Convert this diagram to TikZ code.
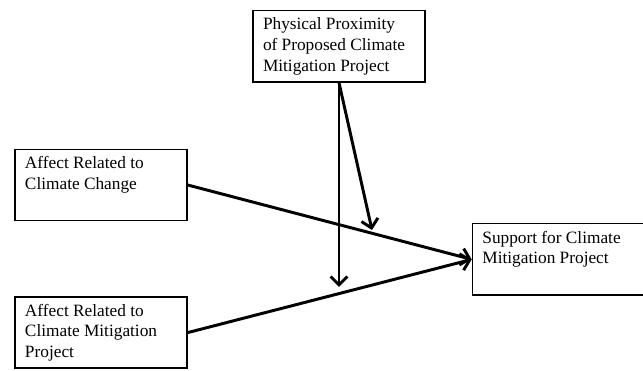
\documentclass[tikz,border=0pt]{standalone}
\usepackage{fontspec}
\setmainfont{Liberation Serif}
\usepackage{xcolor}
\usetikzlibrary{positioning,arrows.meta}

\tikzset{
  varbox/.style={draw, line width=1pt, rectangle, inner xsep=0.25cm, inner ysep=0.18cm,
    font=\fontsize{12.3}{14.6}\selectfont},
  path/.style={line width=2.1pt, ->}
}
\newcommand{\boxtext}[1]{\parbox[c][1.42cm][t]{3.8cm}{\raggedright #1}}

\begin{document}
\begin{tikzpicture}[node distance=1.5cm, >={Straight Barb[length=6pt,width=12pt]}]
      \useasboundingbox (-2.525,-4.65) rectangle (13.55,4.625);
      \node (affect1) [varbox] at (0,0) {\boxtext{Affect Related to\\Climate Change}};
      \node (affect2) [varbox, below=1.875cm of affect1] {\boxtext{Affect Related to\\Climate Mitigation\\Project}};
      \node (support) [varbox, right=7.1cm of affect1, yshift=-1.86cm] {\boxtext{Support for Climate\\Mitigation Project}};
      \node (prox) [varbox, above=1.65cm of affect1, xshift=5.95cm] {\boxtext{Physical Proximity\\of Proposed Climate\\Mitigation Project}};

      \coordinate (mod1) at (6.775,-1.125);
      \coordinate (mod2) at (prox.south |- 0,-2.55);

      \draw[path] (affect1.east) -- (support.west);
      \draw[path] (affect2.east) -- (support.west);
      \draw[path] (prox.south) -- (mod2);
      \draw[path] (prox.south) -- (mod1);
    \end{tikzpicture}
\end{document}
